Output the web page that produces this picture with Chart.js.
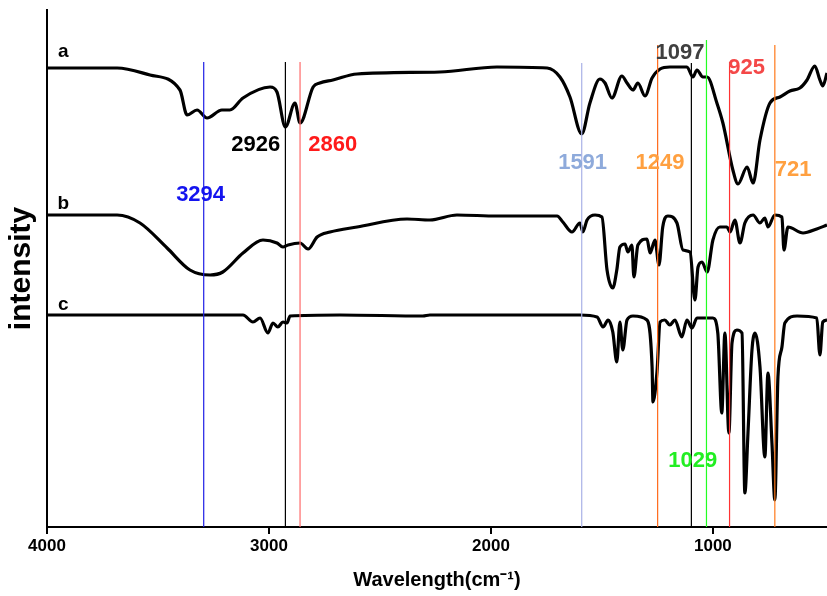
<!DOCTYPE html>
<html>
<head>
<meta charset="utf-8">
<script src="https://cdn.jsdelivr.net/npm/chart.js@4"></script>
<style>
html, body { margin: 0; padding: 0; background: #fff; }
</style>
</head>
<body>
<canvas id="grafico" width="827" height="596"></canvas>
<script>
// espectros FTIR (numero de onda, intensidad relativa)
const spectrumA = [[4000,91.8],[3684,91.8],[3536,90.4],[3401,87.4],[3369,82.4],[3324,83.4],[3279,81.8],[3212,83.4],[3176,83.4],[3117,85.8],[2995,88],[2964,87],[2926,80],[2883,84.8],[2860,80.8],[2801,88],[2771,88.8],[2712,89.4],[2603,90.6],[2230,91],[1973,92],[1747,91.8],[1689,90],[1644,86],[1591,78.6],[1554,84.8],[1509,89.6],[1486,88.8],[1455,85.8],[1410,90.2],[1387,88.8],[1360,87.4],[1338,88.8],[1306,86.2],[1274,89.8],[1238,91.6],[1194,92],[1117,92],[1090,90],[1072,91.4],[1045,90],[1026,90],[982,84.8],[955,80.8],[910,71.4],[887,68.6],[846,72],[819,68.8],[788,77.4],[743,84.8],[698,86],[653,87.2],[608,87.8],[576,89.4],[541,92.2],[518,89.4],[505,88.2],[486,90.8]];

const spectrumB = [[4000,62.4],[3684,62.4],[3581,60.8],[3459,55.8],[3356,51.4],[3265,50.4],[3208,51],[3117,54.8],[3027,57.4],[2964,56.8],[2937,56],[2914,56.4],[2860,56.8],[2824,55.6],[2783,58],[2725,59],[2603,60],[2378,61.6],[2275,61.4],[2153,62.4],[1973,62.2],[1702,62.2],[1676,61],[1635,59],[1599,60.8],[1586,59],[1567,61.4],[1531,62.4],[1500,62],[1477,51.4],[1451,47.8],[1433,51.4],[1419,56],[1396,56.6],[1383,55],[1365,56.4],[1356,50],[1338,56.4],[1297,57.6],[1283,54.8],[1261,57.4],[1243,52.4],[1226,60],[1203,62.2],[1162,60.8],[1135,55.4],[1103,55],[1081,45.4],[1067,52],[1049,53],[1026,51],[1000,57.4],[969,60],[937,60],[923,59],[901,61.4],[878,56.8],[856,60.8],[819,62.4],[788,60.8],[766,61.8],[752,60],[721,62.4],[689,62],[680,55.4],[662,60],[594,58.8],[532,59.6],[486,60.4]];

const spectrumC = [[4000,42.4],[3117,42.4],[3072,41],[3040,41.8],[3005,38.8],[2982,40.8],[2960,40],[2937,41],[2919,40.8],[2905,42.2],[2680,42.4],[2307,42.2],[2275,42.4],[1599,42.4],[1522,42],[1495,40],[1472,41.4],[1451,39],[1433,33],[1419,41],[1406,35.4],[1387,41.4],[1360,42.2],[1297,41.4],[1274,32],[1270,25],[1252,31],[1238,41],[1217,41.4],[1194,40.4],[1171,41.4],[1140,38],[1117,41.4],[1094,39.8],[1072,41.8],[1000,41.8],[978,38.8],[960,22.8],[946,38.8],[928,18.8],[914,36.8],[892,39.4],[869,38.8],[856,6.8],[842,18.8],[824,35.4],[810,38.8],[788,32],[766,14],[752,30.8],[734,16.8],[721,5.4],[707,30],[689,36],[676,40.8],[621,42.2],[532,41.8],[518,34.4],[505,41],[486,41.4]];

const traceNames = ["a", "b", "c"];
const xTicks = [4000, 3000, 2000, 1000];

// bandas marcadas con lineas verticales
const peakMarks = [3294, 2926, 2860, 1591, 1249, 1097, 1029, 925, 721];
const peakTops = [93, 93, 93, 92.8, 96.4, 92.8, 97.4, 93, 96.4];

// estilos y posiciones de los textos (aparte de los datos)
const markColors = ["#1f1fe6", "#000000", "#ff6b6b", "#a9b1e6", "#ff6a1a", "#000000", "#22ff22", "#ff3333", "#ff7a1a"];
const labelColors = ["#1414ef", "#000000", "#ff1a1a", "#8eaadb", "#ffa040", "#404040", "#22ee22", "#f44848", "#ffa040"];
const labelAnchors = [[3308,66.5],[3060,76.4],[2713,76.4],[1587,72.9],[1238,72.9],[1148,94.9],[1091,13.3],[848,91.8],[639,71.5]];
const nameAnchors = [[3927,95],[3927,64.6],[3927,44.4]];

const FONT = "'Liberation Sans', Arial, sans-serif";
Chart.defaults.font.family = FONT;

const toPoints = (arr) => arr.map(([x, y]) => ({ x: x, y: y }));

const datasets = [];
peakMarks.forEach((wn, i) => {
    datasets.push({
        data: [{ x: wn, y: peakTops[i] }, { x: wn, y: 0 }],
        borderColor: markColors[i],
        borderWidth: 1.2,
        pointRadius: 0,
        order: 0
    });
});
[spectrumA, spectrumB, spectrumC].forEach((s) => {
    datasets.push({
        data: toPoints(s),
        borderColor: "#000000",
        borderWidth: 3.2,
        pointRadius: 0,
        cubicInterpolationMode: "monotone",
        borderJoinStyle: "round",
        order: 1
    });
});

const textosPlugin = {
    id: "textos",
    afterDatasetsDraw(chart) {
        const { ctx, scales: { x, y } } = chart;
        ctx.save();
        ctx.textAlign = "center";
        ctx.textBaseline = "middle";
        ctx.font = "bold 22px " + FONT;
        peakMarks.forEach((wn, i) => {
            ctx.fillStyle = labelColors[i];
            ctx.fillText(String(wn), x.getPixelForValue(labelAnchors[i][0]), y.getPixelForValue(labelAnchors[i][1]));
        });
        ctx.font = "bold 19px " + FONT;
        ctx.fillStyle = "#000000";
        traceNames.forEach((n, i) => {
            ctx.fillText(n, x.getPixelForValue(nameAnchors[i][0]), y.getPixelForValue(nameAnchors[i][1]));
        });
        ctx.restore();
    }
};

new Chart(document.getElementById("grafico").getContext("2d"), {
    type: "line",
    data: { datasets: datasets },
    options: {
        responsive: false,
        animation: false,
        layout: { padding: { top: 10, right: 0, left: 0, bottom: 0 } },
        plugins: { legend: { display: false }, tooltip: { enabled: false } },
        scales: {
            x: {
                type: "linear",
                reverse: true,
                min: 486,
                max: 4000,
                afterBuildTicks: (s) => { s.ticks = xTicks.map((v) => ({ value: v })); },
                afterFit: (s) => { s.height = 69; },
                grid: { drawOnChartArea: false, drawTicks: true, tickLength: 7, color: "#000", lineWidth: 2 },
                border: { color: "#000", width: 2 },
                ticks: {
                    color: "#000",
                    font: { size: 17, weight: "bold" },
                    padding: 2,
                    maxRotation: 0,
                    autoSkip: false,
                    callback: (v) => String(v)
                },
                title: {
                    display: true,
                    text: "Wavelength(cm\u207B\u00B9)",
                    color: "#000",
                    font: { size: 20, weight: "bold" },
                    padding: { top: 0, bottom: 4 }
                }
            },
            y: {
                min: 0,
                max: 103.4,
                afterFit: (s) => { s.width = 47; },
                grid: { display: false },
                border: { color: "#000", width: 2 },
                ticks: { display: false },
                title: {
                    display: true,
                    text: "intensity",
                    color: "#000",
                    font: { size: 30, weight: "bold" },
                    padding: { top: 4, bottom: 0 }
                }
            }
        }
    },
    plugins: [textosPlugin]
});
</script>
</body>
</html>
